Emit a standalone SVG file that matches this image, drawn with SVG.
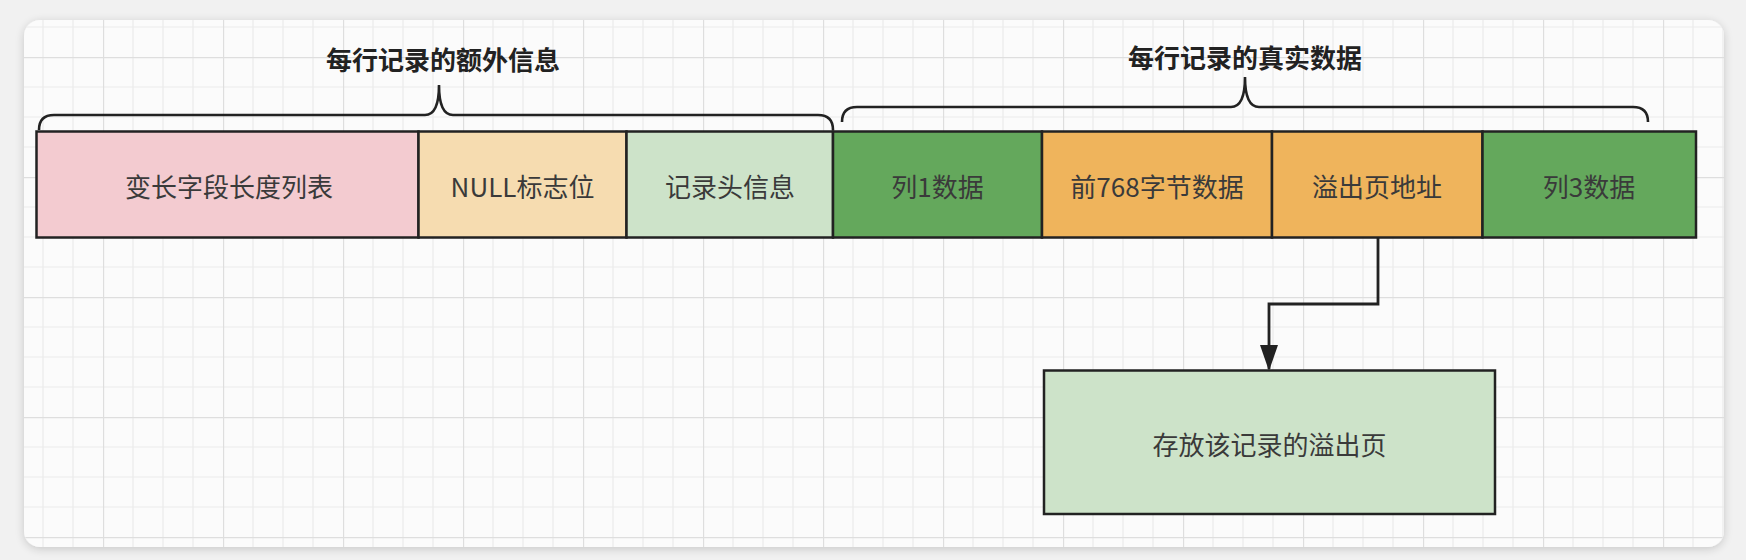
<svg xmlns="http://www.w3.org/2000/svg" width="1746" height="560" viewBox="0 0 1746 560">
  <defs>
    <pattern id="grid" patternUnits="userSpaceOnUse" x="103" y="57" width="120" height="120">
      <path d="M30,0 V120 M60,0 V120 M90,0 V120 M0,30 H120 M0,60 H120 M0,90 H120" stroke="#ebebeb" stroke-width="1.2" fill="none"/>
      <path d="M0.5,0 V120 M0,0.5 H120" stroke="#dedede" stroke-width="1.4" fill="none"/>
    </pattern>
    <filter id="shadow" x="-5%" y="-10%" width="110%" height="120%">
      <feGaussianBlur in="SourceAlpha" stdDeviation="5"/>
      <feOffset dx="0" dy="2" result="b"/>
      <feComponentTransfer><feFuncA type="linear" slope="0.18"/></feComponentTransfer>
      <feMerge><feMergeNode/><feMergeNode in="SourceGraphic"/></feMerge>
    </filter>
    <marker id="arrow" markerWidth="26" markerHeight="18" refX="24" refY="9" orient="auto" markerUnits="userSpaceOnUse" viewBox="0 0 26 18">
      <path d="M0,0 L26,9 L0,18 Z" fill="#222"/>
    </marker>
    <style>
      .cell { stroke: #222; stroke-width: 2.5; }
      .lbl { font-family: "Noto Sans CJK SC", "Noto Sans", sans-serif; font-size: 26px; fill: #3a3a3a; text-anchor: middle; dominant-baseline: central; }
      .title { font-family: "Noto Sans CJK SC", "Noto Sans", sans-serif; font-size: 26px; font-weight: bold; fill: #222; text-anchor: middle; dominant-baseline: central; }
      .brace { fill: none; stroke: #222; stroke-width: 2.6; }
      .conn { fill: none; stroke: #222; stroke-width: 2.8; }
    </style>
  </defs>

  <rect x="0" y="0" width="1746" height="560" fill="#f1f1f1"/>
  <rect x="24" y="20" width="1700" height="527" rx="16" fill="#fbfbfb" filter="url(#shadow)"/>
  <rect x="24" y="20" width="1700" height="527" rx="16" fill="url(#grid)"/>

  <g id="title-extra">
    <text class="title" x="443" y="58">每行记录的额外信息</text>
    <path class="brace" d="M39,130 Q39,115 54,115 L425,115 Q439,115 439,85 Q439,115 453,115 L818,115 Q833,115 833,130"/>
  </g>
  <g id="title-real">
    <text class="title" x="1245" y="56">每行记录的真实数据</text>
    <path class="brace" d="M842,122 Q842,107 857,107 L1231,107 Q1245,107 1245,77 Q1245,107 1259,107 L1633,107 Q1648,107 1648,122"/>
  </g>

  <g id="n-varlen">
    <rect class="cell" x="36.5" y="131.5" width="382" height="106" fill="#f3cbd0"/>
    <text class="lbl" x="229" y="185">变长字段长度列表</text>
  </g>
  <g id="n-null">
    <rect class="cell" x="418.5" y="131.5" width="208" height="106" fill="#f6dcb0"/>
    <text class="lbl" x="522.5" y="185">NULL标志位</text>
  </g>
  <g id="n-header">
    <rect class="cell" x="626.5" y="131.5" width="206.5" height="106" fill="#cde3c9"/>
    <text class="lbl" x="730" y="185">记录头信息</text>
  </g>
  <g id="n-col1">
    <rect class="cell" x="833" y="131.5" width="209" height="106" fill="#64a85c"/>
    <text class="lbl" x="937.5" y="185">列1数据</text>
  </g>
  <g id="n-prefix">
    <rect class="cell" x="1042" y="131.5" width="230" height="106" fill="#efb45c"/>
    <text class="lbl" x="1157" y="185">前768字节数据</text>
  </g>
  <g id="n-overflow-addr">
    <rect class="cell" x="1272" y="131.5" width="210.5" height="106" fill="#efb45c"/>
    <text class="lbl" x="1377" y="185">溢出页地址</text>
  </g>
  <g id="n-col3">
    <rect class="cell" x="1482.5" y="131.5" width="213.5" height="106" fill="#64a85c"/>
    <text class="lbl" x="1589" y="185">列3数据</text>
  </g>

  <g id="n-overflow-page">
    <rect class="cell" x="1044" y="370.5" width="451" height="143.5" fill="#cde3c9"/>
    <text class="lbl" x="1269.5" y="443">存放该记录的溢出页</text>
  </g>

  <g id="connectors">
    <path class="conn" d="M1378,238 V304 H1269 V369" marker-end="url(#arrow)"/>
  </g>
</svg>
